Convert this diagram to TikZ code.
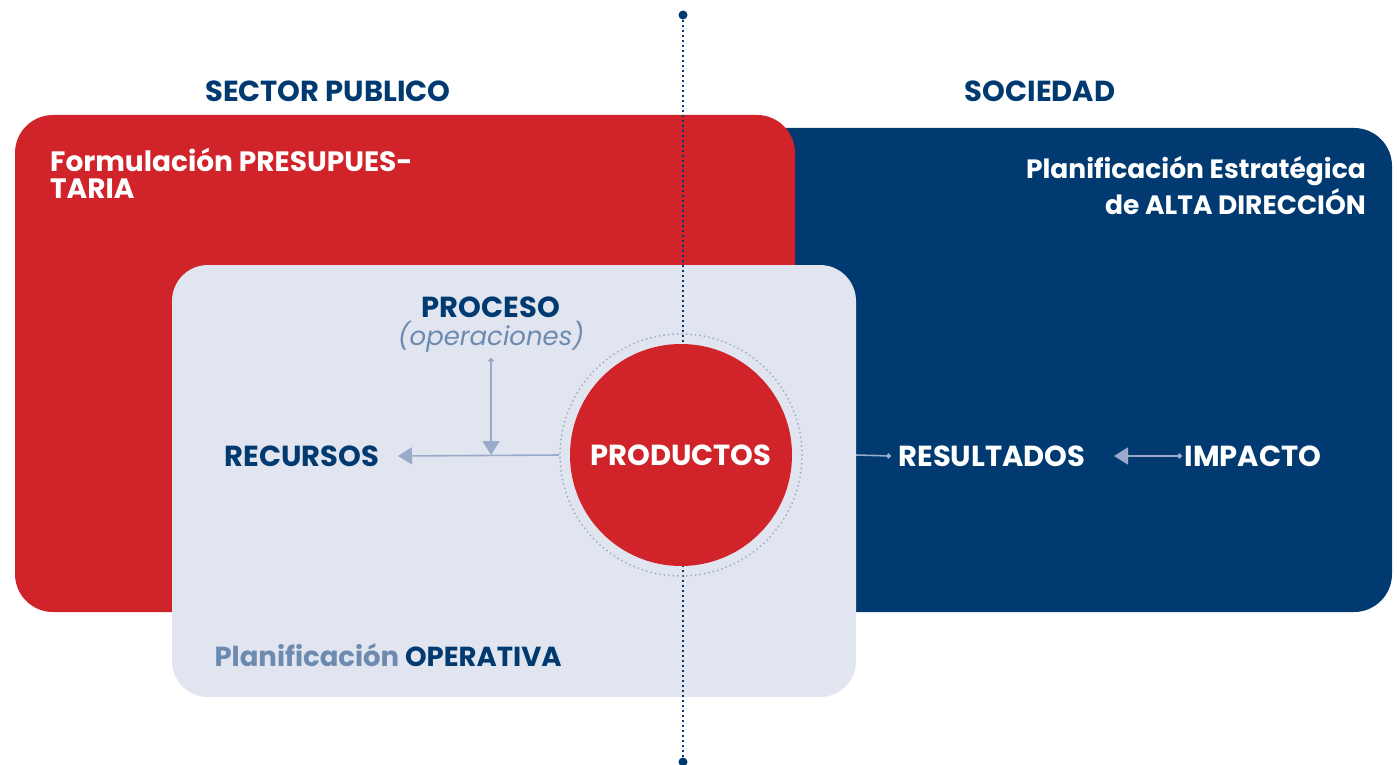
\documentclass[tikz,border=0pt]{standalone}
\usepackage{fontspec}
\setmainfont{Poppins}
\usetikzlibrary{arrows.meta,positioning}
\definecolor{spred}{RGB}{208,35,42}
\definecolor{spnavy}{RGB}{0,58,112}
\definecolor{splight}{RGB}{225,229,239}
\definecolor{sparrow}{RGB}{154,170,203}
\definecolor{spgray}{RGB}{109,138,176}
\tikzset{
  head/.style={font=\fontsize{29}{33}\selectfont\bfseries, text=spnavy},
  wlbl/.style={font=\fontsize{29}{33}\selectfont\bfseries, text=white, inner sep=2pt},
  nlbl/.style={font=\fontsize{29}{33}\selectfont\bfseries, text=spnavy, inner sep=2pt},
  flow/.style={draw=sparrow, line width=1.6pt},
  tipflow/.style={flow, -{Triangle[length=14pt,width=17pt]}},
}
\begin{document}
\begin{tikzpicture}[x=1pt,y=-1pt]
  \useasboundingbox (0,0) rectangle (1397,765);
  % Society and public sector panels
  \fill[spnavy, rounded corners=38pt] (700,128) rectangle (1392,612);
  \fill[spred, rounded corners=38pt] (15,115) rectangle (795,612);
  \fill[splight, rounded corners=36pt] (172,265) rectangle (856,697);
  % Headings
  \node[head] (pub) at (328,91) {SECTOR PUBLICO};
  \node[head] (soc) at (1040,91) {SOCIEDAD};
  \node[wlbl, anchor=north west, align=left, font=\fontsize{28}{27}\selectfont\bfseries] (presup) at (48,146) {Formulación PRESUPUES-\\TARIA};
  \node[wlbl, anchor=north east, align=right, font=\fontsize{26.5}{36}\selectfont\bfseries] (alta) at (1368,154) {Planificación Estratégica\\de ALTA DIRECCIÓN};
  \node[anchor=west, font=\fontsize{27.5}{33}\selectfont\bfseries] (oper) at (211,655) {\textcolor{spgray}{Planificación} \textcolor{spnavy}{OPERATIVA}};
  % Centre line
  \coordinate (ltop) at (683,15);
  \coordinate (lbot) at (683,762);
  \draw[spnavy, line width=2pt, dash pattern=on 2pt off 3pt] (ltop) -- (lbot);
  \fill[spnavy] (ltop) circle (4.5pt);
  \fill[spnavy] (lbot) circle (4.5pt);
  % Products
  \node[circle, minimum size=242pt, draw=sparrow, line width=2pt, line cap=round, dash pattern=on 0pt off 4.5pt] (ring) at (681,455) {};
  \node[circle, minimum size=222pt, fill=spred, inner sep=0pt, wlbl] (prod) at (681,455) {PRODUCTOS};
  % Labels
  \node[nlbl] (proc) at (491,307) {PROCESO};
  \node[font=\fontsize{26}{30}\selectfont\itshape, text=spgray, inner sep=1pt] (opers) at (491,337) {(operaciones)};
  \node[nlbl] (recur) at (302,456) {RECURSOS};
  \node[wlbl] (result) at (992,456) {RESULTADOS};
  \node[wlbl] (impact) at (1253,456) {IMPACTO};
  % Flow connectors
  \coordinate (pdot) at (491,358);
  \coordinate (join) at (491,455);
  \coordinate (opright) at (856,455);
  \draw[tipflow] (ring.west) -- (recur.east -| 398,0);
  \draw[tipflow, {Circle[length=5pt]}-{Triangle[length=14pt,width=17pt]}] (pdot) -- (join);
  \draw[flow, -{Circle[length=5pt]}] (opright) -- (result.west -| 891,0);
  \draw[tipflow, {Circle[length=5pt]}-{Triangle[length=14pt,width=17pt]}] (impact.west -| 1182,0) -- (result.east -| 1114,0);
\end{tikzpicture}
\end{document}
